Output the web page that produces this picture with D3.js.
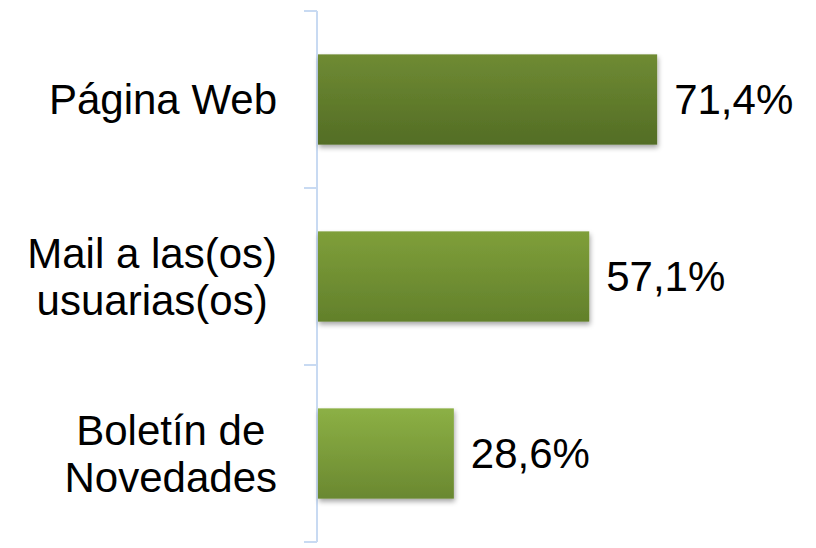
<!DOCTYPE html>
<html>
<head>
<meta charset="utf-8">
<script src="https://cdn.jsdelivr.net/npm/d3@7"></script>
<style>
  body { margin: 0; background: #fff; }
  svg { display: block; font-family: "Liberation Sans", Arial, sans-serif; }
</style>
</head>
<body>
<svg id="chart" width="816" height="548"></svg>
<script>
'use strict'

// data
var categories = ["Página Web", "Mail a las(os) usuarias(os)", "Boletín de Novedades"]
var labelLines = [["Página Web"], ["Mail a las(os)", "usuarias(os)"], ["Boletín de", "Novedades"]]
var values = [71.4, 57.1, 28.6]
var valueLabels = ["71,4%", "57,1%", "28,6%"]
var barTop = ["#6f8b33", "#7f9f3a", "#8cb045"]
var barBottom = ["#536d25", "#62802b", "#6a8830"]

var svg = d3.select("#chart")
var fs = 42

var x = d3.scaleLinear().domain([0, 100]).range([318, 793])
var y = d3.scaleBand().domain(categories).range([11, 542])
  .paddingInner(0.49).paddingOuter(0.245)

var defs = svg.append("defs")
categories.forEach(function(c, i) {
  var g = defs.append("linearGradient").attr("id", "grad" + i)
    .attr("x1", 0).attr("y1", 0).attr("x2", 0).attr("y2", 1)
  g.append("stop").attr("offset", "0%").attr("stop-color", barTop[i])
  g.append("stop").attr("offset", "100%").attr("stop-color", barBottom[i])
})
defs.append("filter").attr("id", "shadow")
  .attr("x", "-10%").attr("y", "-10%").attr("width", "130%").attr("height", "140%")
  .append("feDropShadow")
  .attr("dx", 1).attr("dy", 3).attr("stdDeviation", 2.5)
  .attr("flood-color", "#000").attr("flood-opacity", 0.35)

// axis line + ticks
var axisColor = "#c8daf2"
var ax = x(0) - 1
svg.append("line")
  .attr("x1", ax).attr("x2", ax)
  .attr("y1", y.range()[0]).attr("y2", y.range()[1])
  .attr("stroke", axisColor).attr("stroke-width", 2)
d3.range(categories.length + 1).forEach(function(i) {
  var ty = y.range()[0] + i * y.step()
  svg.append("line")
    .attr("x1", ax - 13).attr("x2", ax)
    .attr("y1", ty).attr("y2", ty)
    .attr("stroke", axisColor).attr("stroke-width", 2)
})

// bars
svg.selectAll("rect.bar")
  .data(categories)
  .enter().append("rect")
  .attr("class", "bar")
  .attr("x", x(0))
  .attr("y", function(d) { return y(d) })
  .attr("width", function(d, i) { return x(values[i]) - x(0) })
  .attr("height", y.bandwidth())
  .attr("fill", function(d, i) { return "url(#grad" + i + ")" })
  .attr("filter", "url(#shadow)")

// value labels
svg.selectAll("text.val")
  .data(categories)
  .enter().append("text")
  .attr("class", "val")
  .attr("x", function(d, i) { return x(values[i]) + 17 })
  .attr("y", function(d) { return y(d) + y.bandwidth() / 2 + fs * 0.35 })
  .attr("font-size", fs)
  .attr("fill", "#000")
  .text(function(d, i) { return valueLabels[i] })

// category labels: lines centred in a block that is right-aligned to the axis
var labelRight = 277
var lh = 47
categories.forEach(function(c, i) {
  var t = svg.append("text")
    .attr("font-size", fs)
    .attr("fill", "#000")
    .attr("text-anchor", "middle")
  var lines = labelLines[i]
  var cy = y(c) + y.bandwidth() / 2
  var spans = lines.map(function(l, j) {
    return t.append("tspan")
      .attr("y", cy + (j - (lines.length - 1) / 2) * lh + fs * 0.35)
      .text(l)
  })
  var w = d3.max(spans, function(s) { return s.node().getComputedTextLength() })
  spans.forEach(function(s) { s.attr("x", labelRight - w / 2) })
})
</script>
</body>
</html>
